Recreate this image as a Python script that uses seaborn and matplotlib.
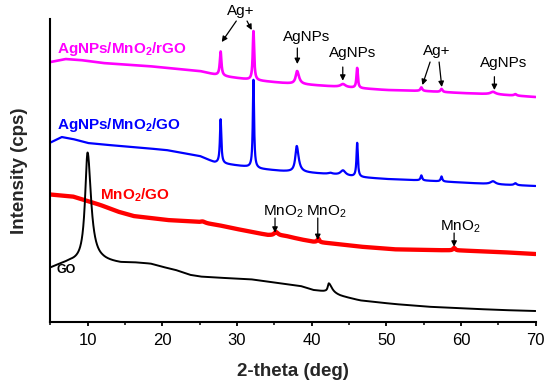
import numpy as np
import pandas as pd
import matplotlib
matplotlib.use("Agg")
import matplotlib.pyplot as plt
import seaborn as sns

# ---------------- data ----------------
two_theta = np.round(np.arange(5.0, 70.0001, 0.01), 2)

series_names = ["AgNPs/MnO$_2$/rGO", "AgNPs/MnO$_2$/GO", "MnO$_2$/GO", "GO"]
series_colors = ["#FF00FF", "#0000FF", "#FF0000", "#000000"]

# baseline nodes (2-theta, intensity a.u.)
rgo_base_x = [5, 7, 9, 12, 18, 25, 27, 29, 32, 35.8, 38, 42, 46, 50, 55, 60, 65, 70]
rgo_base_y = [260, 263, 262, 259, 256, 251, 247.5, 245, 242, 239.3, 238, 236, 234, 232, 231, 229, 227.5, 225]
# peaks: center, height, left FWHM, right FWHM
rgo_peak_c = [27.8, 32.2, 38.05, 44.2, 46.1, 54.7, 57.4, 64.3, 67.3]
rgo_peak_h = [24, 49, 13, 3, 20, 3.5, 3, 2.5, 1.5]
rgo_peak_wl = [0.25, 0.22, 0.45, 0.8, 0.22, 0.3, 0.3, 0.8, 0.4]
rgo_peak_wr = [0.25, 0.22, 0.6, 0.8, 0.22, 0.3, 0.3, 0.8, 0.4]

go_ag_base_x = [5, 6.5, 8, 10, 12, 16, 20.5, 25, 27, 31, 33.2, 36, 40, 43, 46, 50, 55, 60, 65, 70]
go_ag_base_y = [179.5, 185, 183, 179, 177.5, 175, 172, 166, 159.5, 155.5, 153, 151, 149, 147.5, 145, 143, 141.5, 139.5, 137.5, 136]
go_ag_peak_c = [27.8, 32.2, 38.0, 42.5, 44.2, 46.1, 54.7, 57.4, 64.3, 67.3]
go_ag_peak_h = [44, 88, 26, 1.2, 5, 34, 5, 5, 3, 2]
go_ag_peak_wl = [0.22, 0.2, 0.45, 0.6, 0.8, 0.22, 0.25, 0.25, 0.8, 0.4]
go_ag_peak_wr = [0.22, 0.2, 0.6, 0.6, 0.8, 0.22, 0.25, 0.25, 0.8, 0.4]

mno_base_x = [5, 8, 9.5, 11.7, 14, 16.1, 20.6, 24, 27.4, 29.5, 31.8, 34.1, 36.5, 38.5, 40.2, 42.5, 46.6, 51, 55.5, 60, 64.4, 70]
mno_base_y = [127.5, 125.5, 122, 117, 110.5, 106, 102, 100.5, 97, 93.7, 90.3, 87, 86, 82.7, 80.3, 78.7, 75.3, 72.7, 72, 71.5, 70.3, 68]
mno_peak_c = [25.4, 35.2, 40.9, 59.1]
mno_peak_h = [1.5, 3.5, 3.5, 2.5]
mno_peak_wl = [0.8, 0.5, 0.3, 0.35]
mno_peak_wr = [0.8, 0.7, 0.3, 0.35]

go_base_x = [5, 6.3, 7.6, 9, 12, 14.4, 16.1, 18.4, 20.1, 21.7, 23.7, 25.1, 27.3, 31.8, 35.8, 38.5, 40.2, 41.8, 43.8, 46.5, 51, 55.5, 60, 65.3, 70]
go_base_y = [54, 57.5, 60, 60, 60, 58.5, 59, 58, 54.7, 52, 47, 45.3, 44.3, 42.7, 38.7, 36, 32, 30.5, 26, 21.5, 18, 15.3, 13.7, 12, 11]
go_peak_c = [9.97, 42.3]
go_peak_h = [109.5, 9.3]
go_peak_wl = [0.8, 0.35]
go_peak_wr = [1.1, 1.0]


def pattern(bx, by, pc, ph, pwl, pwr):
    y = np.interp(two_theta, bx, by)
    for c, h, wl, wr in zip(pc, ph, pwl, pwr):
        w = np.where(two_theta < c, wl, wr)
        y = y + h / (1.0 + (2.0 * (two_theta - c) / w) ** 2)
    return y


curves = [
    pattern(rgo_base_x, rgo_base_y, rgo_peak_c, rgo_peak_h, rgo_peak_wl, rgo_peak_wr),
    pattern(go_ag_base_x, go_ag_base_y, go_ag_peak_c, go_ag_peak_h, go_ag_peak_wl, go_ag_peak_wr),
    pattern(mno_base_x, mno_base_y, mno_peak_c, mno_peak_h, mno_peak_wl, mno_peak_wr),
    pattern(go_base_x, go_base_y, go_peak_c, go_peak_h, go_peak_wl, go_peak_wr),
]

df = pd.concat(
    [pd.DataFrame({"two_theta": two_theta, "intensity": c, "sample": n})
     for n, c in zip(series_names, curves)],
    ignore_index=True,
)

x_ticks = [10, 20, 30, 40, 50, 60, 70]

# ---------------- style ----------------
sns.set_theme(style="ticks")
plt.rcParams["font.family"] = ["Liberation Sans", "DejaVu Sans"]
plt.rcParams["mathtext.default"] = "regular"

fig = plt.figure(figsize=(5.47, 3.85), dpi=100)
ax = fig.add_axes([0.0923, 0.1644, 0.8867, 0.7862])

line_widths = [1.9, 1.6, 3.1, 1.4]
for name, col, lw in zip(series_names, series_colors, line_widths):
    sns.lineplot(data=df[df["sample"] == name], x="two_theta", y="intensity",
                 color=col, linewidth=lw, estimator=None, sort=False, ax=ax,
                 legend=False)

ax.set_xlim(5, 70)
ax.set_ylim(0.3, 303)
ax.set_xticks(x_ticks)
ax.set_xticks(np.arange(5, 71, 10), minor=True)
ax.set_yticks([])
ax.tick_params(axis="x", which="major", direction="out", length=3.2, width=1.3,
               labelsize=12, pad=5, colors="black")
ax.tick_params(axis="x", which="minor", direction="out", length=2, width=1.3)
for s in ["top", "right"]:
    ax.spines[s].set_visible(False)
for s in ["left", "bottom"]:
    ax.spines[s].set_linewidth(1.5)
    ax.spines[s].set_color("black")

ax.set_xlabel("2-theta (deg)", fontsize=13.5, fontweight="bold", labelpad=11)
ax.set_ylabel("Intensity (cps)", fontsize=13.5, fontweight="bold", labelpad=16)

# series labels
ax.text(5.87, 272.7, "AgNPs/MnO$_2$/rGO", color="#FF00FF", fontsize=11,
        fontweight="bold", va="center", ha="left")
ax.text(5.87, 197, "AgNPs/MnO$_2$/GO", color="#0000FF", fontsize=11,
        fontweight="bold", va="center", ha="left")
ax.text(11.64, 127, "MnO$_2$/GO", color="#FF0000", fontsize=11,
        fontweight="bold", va="center", ha="left")
ax.text(5.87, 52, "GO", color="black", fontsize=9, fontweight="bold",
        va="center", ha="left")

arrow = dict(arrowstyle="-|>", color="black", lw=0.9, mutation_scale=8,
             shrinkA=0, shrinkB=0)


def label(x, y, s):
    ax.text(x, y, s, fontsize=11, ha="center", va="center", color="black",
            clip_on=False)


def arr(x0, y0, x1, y1):
    ax.annotate("", xy=(x1, y1), xytext=(x0, y0), arrowprops=arrow,
                annotation_clip=False)


label(30.54, 311, "Ag+")
arr(29.9, 301, 27.95, 280)
arr(31.34, 301, 31.97, 292)

label(39.34, 285.3, "AgNPs")
arr(38.08, 274, 38.08, 258)

label(45.5, 268.7, "AgNPs")
arr(44.17, 255, 44.17, 241.3)

label(56.77, 271.3, "Ag+")
arr(55.87, 260, 54.84, 237)
arr(57.08, 260, 57.44, 235)

label(65.66, 258.7, "AgNPs")
arr(64.49, 245.3, 64.49, 232)

label(36.17, 110.3, "MnO$_2$")
arr(35.09, 104, 35.09, 89.3)
label(41.93, 110, "MnO$_2$")
arr(40.82, 104, 40.82, 82)
label(59.89, 95.3, "MnO$_2$")
arr(59.09, 89, 59.09, 75.3)

fig.savefig("out.png", dpi=100)
